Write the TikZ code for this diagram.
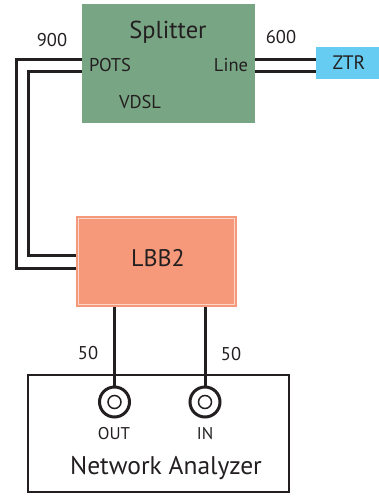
\documentclass[tikz,border=0pt]{standalone}
\usepackage{fontspec}
\setmainfont{PT Sans}
\definecolor{splgreen}{RGB}{120,165,131}
\definecolor{lbbsalmon}{RGB}{245,153,122}
\definecolor{ztrblue}{RGB}{102,204,242}
\definecolor{ink}{RGB}{35,31,32}
\begin{document}
\begin{tikzpicture}[x=1pt,y=-1pt,
  box/.style={draw=none,inner sep=0pt,text=ink},
  wire/.style={draw=ink,line width=3pt},
  lbl/.style={text=ink,inner sep=0pt},
  port/.style={circle,draw=ink,line width=3pt,minimum size=30pt,inner sep=0pt,fill=white},
  portin/.style={circle,draw=ink,line width=1.5pt,minimum size=13pt,inner sep=0pt}]
\useasboundingbox (0,0) rectangle (378,498);
% boxes
\node[box,fill=splgreen,minimum width=173pt,minimum height=119pt] (spl) at (168.5,63.5) {};
\node[lbl,font=\fontsize{24.5}{24.5}\selectfont] (spltxt) at (168,32) {Splitter};
\node[lbl,font=\fontsize{18.5}{18.5}\selectfont] (pots) at (110,65) {POTS};
\node[lbl,font=\fontsize{18.5}{18.5}\selectfont] (line) at (231,65) {Line};
\node[lbl,font=\fontsize{18.5}{18.5}\selectfont] (vdsl) at (140,102) {VDSL};
\node[box,fill=ztrblue,minimum width=64pt,minimum height=32pt] (ztr) at (348,63) {};
\node[lbl,font=\fontsize{19.5}{19.5}\selectfont] (ztrtxt) at (349,63) {ZTR};
\node[box,fill=lbbsalmon,minimum width=161pt,minimum height=91pt] (lbb) at (156.5,261.5) {};
\draw[white!60!lbbsalmon,line width=0.6pt] ([shift={(2.5pt,-2.5pt)}]lbb.north west) rectangle ([shift={(-2.5pt,2.5pt)}]lbb.south east);
\node[lbl,font=\fontsize{24}{24}\selectfont] (lbbtxt) at (158,258) {LBB2};
\node[draw=ink,line width=2.5pt,minimum width=261pt,minimum height=117pt,inner sep=0pt] (na) at (158.5,433.5) {};
\node[lbl,font=\fontsize{25.5}{25.5}\selectfont] (natxt) at (166,468) {Network Analyzer};
\node[port] (out) at (114.5,402) {};
\node[portin] at (out) {};
\node[port] (in) at (205,402) {};
\node[portin] at (in) {};
\node[lbl,font=\fontsize{17}{17}\selectfont] (outtxt) at (114,434) {OUT};
\node[lbl,font=\fontsize{17}{17}\selectfont] (intxt) at (205,434) {IN};
% labels
\node[lbl,font=\fontsize{18.5}{18.5}\selectfont] (l900) at (52,40) {900};
\node[lbl,font=\fontsize{18.5}{18.5}\selectfont] (l600) at (281,37) {600};
\node[lbl,font=\fontsize{18.5}{18.5}\selectfont] (l50a) at (88,353) {50};
\node[lbl,font=\fontsize{18.5}{18.5}\selectfont] (l50b) at (231,354) {50};
% wires
\coordinate (c1) at (16,59);
\coordinate (c2) at (28,71);
\draw[wire] (spl.west |- c1) -| (16,268) -- (lbb.west |- 0,268);
\draw[wire] (spl.west |- c2) -| (28,255) -- (lbb.west |- 0,255);
\draw[wire] (spl.east |- 0,59) -- (ztr.west |- 0,59);
\draw[wire] (spl.east |- 0,71) -- (ztr.west |- 0,71);
\draw[wire] (lbb.south -| out) -- (out.north);
\draw[wire] (lbb.south -| in) -- (in.north);
\end{tikzpicture}
\end{document}
